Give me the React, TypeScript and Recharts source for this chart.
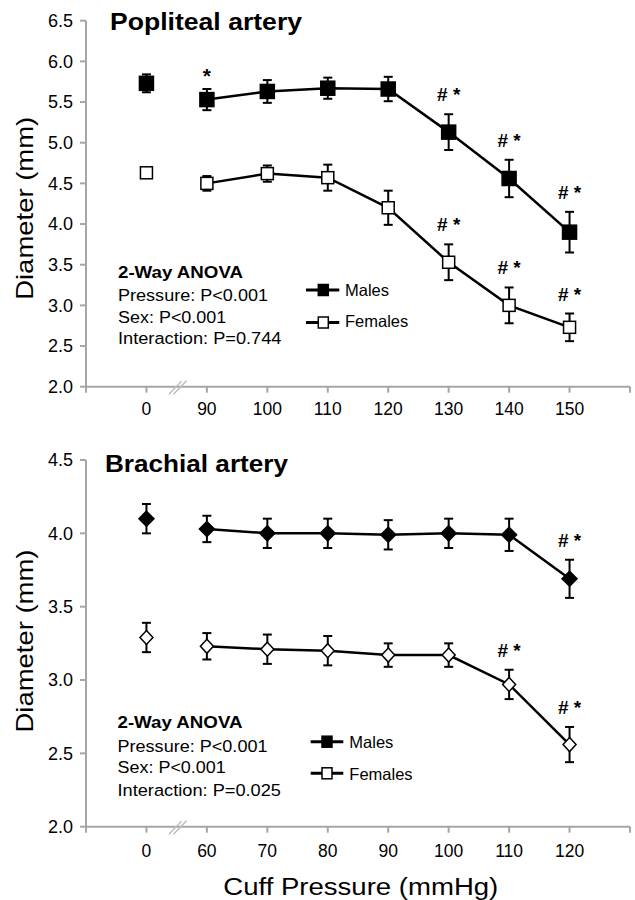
import React from 'react';
import { ComposedChart, Line, XAxis, YAxis, ErrorBar, Scatter } from 'recharts';

const FONT = '"Liberation Sans", Arial, Helvetica, sans-serif';
const AXIS_GRAY = '#a6a6a6';

// ---------- Popliteal artery ----------
const popCats = ['0', '90', '100', '110', '120', '130', '140', '150'];
const popMale = [5.73, 5.53, 5.63, 5.67, 5.66, 5.13, 4.56, 3.9];
const popMaleSE = [0.11, 0.13, 0.14, 0.13, 0.15, 0.22, 0.23, 0.25];
const popFemale = [4.63, 4.5, 4.62, 4.57, 4.2, 3.53, 3.0, 2.73];
const popFemaleSE = [0.04, 0.09, 0.1, 0.16, 0.21, 0.22, 0.22, 0.17];
const popMaleSig = ['', '*', '', '', '', '# *', '# *', '# *'];
const popFemaleSig = ['', '', '', '', '', '# *', '# *', '# *'];
const popYTicks = [2.0, 2.5, 3.0, 3.5, 4.0, 4.5, 5.0, 5.5, 6.0, 6.5];
const popAnova = ['2-Way ANOVA', 'Pressure: P<0.001', 'Sex: P<0.001', 'Interaction: P=0.744'];

// ---------- Brachial artery ----------
const brachCats = ['0', '60', '70', '80', '90', '100', '110', '120'];
const brachMale = [4.1, 4.03, 4.0, 4.0, 3.99, 4.0, 3.99, 3.69];
const brachMaleSE = [0.1, 0.09, 0.1, 0.1, 0.1, 0.1, 0.11, 0.13];
const brachFemale = [3.29, 3.23, 3.21, 3.2, 3.17, 3.17, 2.97, 2.56];
const brachFemaleSE = [0.1, 0.09, 0.1, 0.1, 0.08, 0.08, 0.1, 0.12];
const brachMaleSig = ['', '', '', '', '', '', '', '# *'];
const brachFemaleSig = ['', '', '', '', '', '', '# *', '# *'];
const brachYTicks = [2.0, 2.5, 3.0, 3.5, 4.0, 4.5];
const brachAnova = ['2-Way ANOVA', 'Pressure: P<0.001', 'Sex: P<0.001', 'Interaction: P=0.025'];

const legendNames = ['Males', 'Females'];
const xSlots = [0, 1, 2, 3, 4, 5, 6, 7, 8, 9];

function buildRows(cats: string[], male: number[], maleSE: number[], female: number[], femaleSE: number[]) {
  return cats.map((c, i) => ({
    x: i + 1,
    label: c,
    m: i > 0 ? male[i] : null,
    mSE: i > 0 ? maleSE[i] : null,
    m0: i === 0 ? male[i] : null,
    m0SE: i === 0 ? maleSE[i] : null,
    f: i > 0 ? female[i] : null,
    fSE: i > 0 ? femaleSE[i] : null,
    f0: i === 0 ? female[i] : null,
    f0SE: i === 0 ? femaleSE[i] : null,
  }));
}

function buildSig(vals: number[], se: number[], sig: string[]) {
  return vals
    .map((v, i) => ({ x: i + 1, y: v + se[i], text: sig[i] }))
    .filter((d) => d.text !== '');
}

const squareDot = (fill: string, size: number) => (props: any) => {
  const { cx, cy, index } = props;
  if (cx == null || cy == null || Number.isNaN(cy)) return <g key={`s-${index}`} />;
  return (
    <rect
      key={`s-${index}`}
      x={cx - size / 2}
      y={cy - size / 2}
      width={size}
      height={size}
      fill={fill}
      stroke="#000"
      strokeWidth={1.5}
    />
  );
};

const diamondDot = (fill: string, hw: number, hh: number) => (props: any) => {
  const { cx, cy, index } = props;
  if (cx == null || cy == null || Number.isNaN(cy)) return <g key={`d-${index}`} />;
  const pts = `${cx},${cy - hh} ${cx + hw},${cy} ${cx},${cy + hh} ${cx - hw},${cy}`;
  return <polygon key={`d-${index}`} points={pts} fill={fill} stroke="#000" strokeWidth={1.5} />;
};

const sigShape = (props: any) => {
  const { cx, cy, payload } = props;
  const starOnly = payload.text === '*';
  return (
    <text
      x={cx}
      y={cy - (starOnly ? 6 : 13)}
      textAnchor="middle"
      fontFamily={FONT}
      fontSize={starOnly ? 21 : 19}
      fontWeight="bold"
      fill="#000"
    >
      {payload.text}
    </text>
  );
};

const YTick = (props: any) => {
  const { x, y, payload } = props;
  return (
    <text x={x} y={y} dy="0.355em" textAnchor="end" fontFamily={FONT} fontSize={18} fill="#000">
      {Number(payload.value).toFixed(1)}
    </text>
  );
};

const makeXTick = (cats: string[]) => (props: any) => {
  const { x, y, payload } = props;
  const idx = payload.value - 1;
  const label = idx >= 0 && idx < cats.length ? cats[idx] : '';
  return (
    <text x={x} y={y} dy="0.71em" textAnchor="middle" fontFamily={FONT} fontSize={17.5} fill="#000">
      {label}
    </text>
  );
};

type PanelProps = {
  height: number;
  marginTop: number;
  xAxisHeight: number;
  xTickMargin: number;
  cats: string[];
  male: number[];
  maleSE: number[];
  female: number[];
  femaleSE: number[];
  maleSig: string[];
  femaleSig: string[];
  yTicks: number[];
  diamond: boolean;
  children?: React.ReactNode;
};

function Panel(p: PanelProps) {
  const rows = buildRows(p.cats, p.male, p.maleSE, p.female, p.femaleSE);
  const sig = [...buildSig(p.male, p.maleSE, p.maleSig), ...buildSig(p.female, p.femaleSE, p.femaleSig)];
  const maleDot = p.diamond ? diamondDot('#000', 7.5, 7.5) : squareDot('#000', 14);
  const femaleDot = p.diamond ? diamondDot('#fff', 6.5, 7) : squareDot('#fff', 12);
  const yMin = p.yTicks[0];
  const yMax = p.yTicks[p.yTicks.length - 1];
  return (
    <div style={{ position: 'relative', width: 635, height: p.height }}>
      <ComposedChart
        width={635}
        height={p.height}
        data={rows}
        margin={{ top: p.marginTop, right: 5, bottom: 0, left: 0 }}
      >
        <XAxis
          dataKey="x"
          type="number"
          domain={[0, 9]}
          ticks={xSlots}
          interval={0}
          height={p.xAxisHeight}
          axisLine={{ stroke: AXIS_GRAY, strokeWidth: 2 }}
          tickLine={{ stroke: AXIS_GRAY, strokeWidth: 2 }}
          tickSize={6}
          tickMargin={p.xTickMargin}
          tick={makeXTick(p.cats)}
        />
        <YAxis
          type="number"
          domain={[yMin, yMax]}
          ticks={p.yTicks}
          interval={0}
          width={86}
          allowDataOverflow
          axisLine={{ stroke: AXIS_GRAY, strokeWidth: 2 }}
          tickLine={{ stroke: AXIS_GRAY, strokeWidth: 2 }}
          tickSize={6}
          tickMargin={7}
          tick={<YTick />}
        />
        <Line
          dataKey="m"
          stroke="#000"
          strokeWidth={2.5}
          dot={maleDot}
          activeDot={false}
          isAnimationActive={false}
          connectNulls={false}
        >
          <ErrorBar dataKey="mSE" width={4.5} stroke="#000" strokeWidth={2} />
        </Line>
        <Line
          dataKey="m0"
          stroke="#000"
          strokeWidth={2.5}
          dot={maleDot}
          activeDot={false}
          isAnimationActive={false}
        >
          <ErrorBar dataKey="m0SE" width={4.5} stroke="#000" strokeWidth={2} />
        </Line>
        <Line
          dataKey="f"
          stroke="#000"
          strokeWidth={2.5}
          dot={femaleDot}
          activeDot={false}
          isAnimationActive={false}
          connectNulls={false}
        >
          <ErrorBar dataKey="fSE" width={4.5} stroke="#000" strokeWidth={2} />
        </Line>
        <Line
          dataKey="f0"
          stroke="#000"
          strokeWidth={2.5}
          dot={femaleDot}
          activeDot={false}
          isAnimationActive={false}
        >
          <ErrorBar dataKey="f0SE" width={4.5} stroke="#000" strokeWidth={2} />
        </Line>
        <Scatter data={sig} dataKey="y" shape={sigShape} isAnimationActive={false} />
      </ComposedChart>
      <svg
        width={635}
        height={p.height}
        style={{ position: 'absolute', left: 0, top: 0, pointerEvents: 'none' }}
      >
        {p.children}
      </svg>
    </div>
  );
}

function Anova({ lines, x, y0, gaps }: { lines: string[]; x: number; y0: number; gaps: number[] }) {
  const widths = [125, 150, 108.3, 163.5];
  let y = y0;
  return (
    <g>
      {lines.map((t, i) => {
        if (i > 0) y += gaps[i - 1];
        return (
          <text
            key={t}
            x={x}
            y={y}
            fontFamily={FONT}
            fontSize={16.3}
            fontWeight={i === 0 ? 'bold' : 'normal'}
            fill="#000"
            textLength={widths[i]}
            lengthAdjust="spacingAndGlyphs"
          >
            {t}
          </text>
        );
      })}
    </g>
  );
}

function LegendBox({ x0, x1, mx, ys, textX, textYs }: { x0: number; x1: number; mx: number; ys: number[]; textX: number; textYs: number[] }) {
  return (
    <g>
      {legendNames.map((n, i) => (
        <g key={n}>
          <line x1={x0} y1={ys[i]} x2={x1} y2={ys[i]} stroke="#000" strokeWidth={3} />
          <rect
            x={mx - 5}
            y={ys[i] - 5.5}
            width={10}
            height={11}
            fill={i === 0 ? '#000' : '#fff'}
            stroke="#000"
            strokeWidth={1.5}
          />
          <text x={textX} y={textYs[i]} fontFamily={FONT} fontSize={16.5} fill="#000">
            {n}
          </text>
        </g>
      ))}
    </g>
  );
}

function BreakMark({ y }: { y: number }) {
  return (
    <g stroke="#bdbdbd" strokeWidth={1.5}>
      <line x1={169} y1={y + 7.5} x2={181.5} y2={y - 5.5} />
      <line x1={173.5} y1={y + 7.5} x2={186.5} y2={y - 6} />
    </g>
  );
}

export default function App() {
  return (
    <div style={{ position: 'absolute', left: 0, top: 0, width: 635, height: 900, background: '#fff' }}>
      <Panel
        height={440}
        marginTop={20.7}
        xAxisHeight={53.3}
        xTickMargin={10}
        cats={popCats}
        male={popMale}
        maleSE={popMaleSE}
        female={popFemale}
        femaleSE={popFemaleSE}
        maleSig={popMaleSig}
        femaleSig={popFemaleSig}
        yTicks={popYTicks}
        diamond={false}
      >
        <text
          x={110}
          y={30}
          fontFamily={FONT}
          fontSize={24.5}
          fontWeight="bold"
          fill="#000"
          textLength={192}
          lengthAdjust="spacingAndGlyphs"
        >
          Popliteal artery
        </text>
        <text
          transform="translate(33,208.3) rotate(-90)"
          textAnchor="middle"
          fontFamily={FONT}
          fontSize={24}
          fill="#000"
          textLength={183}
          lengthAdjust="spacingAndGlyphs"
        >
          Diameter (mm)
        </text>
        <Anova lines={popAnova} x={118} y0={278.3} gaps={[22.4, 22, 21.6]} />
        <LegendBox x0={306} x1={339.3} mx={323.3} ys={[290, 322.5]} textX={345} textYs={[295.7, 327.3]} />
        <BreakMark y={386.7} />
      </Panel>
      <Panel
        height={460}
        marginTop={20}
        xAxisHeight={73.3}
        xTickMargin={12}
        cats={brachCats}
        male={brachMale}
        maleSE={brachMaleSE}
        female={brachFemale}
        femaleSE={brachFemaleSE}
        maleSig={brachMaleSig}
        femaleSig={brachFemaleSig}
        yTicks={brachYTicks}
        diamond={true}
      >
        <text
          x={105}
          y={31.7}
          fontFamily={FONT}
          fontSize={24}
          fontWeight="bold"
          fill="#000"
          textLength={183}
          lengthAdjust="spacingAndGlyphs"
        >
          Brachial artery
        </text>
        <text
          transform="translate(33,201) rotate(-90)"
          textAnchor="middle"
          fontFamily={FONT}
          fontSize={24}
          fill="#000"
          textLength={183}
          lengthAdjust="spacingAndGlyphs"
        >
          Diameter (mm)
        </text>
        <Anova lines={brachAnova} x={117.5} y0={288.3} gaps={[23.4, 21.6, 22.4]} />
        <LegendBox x0={310.7} x1={343.3} mx={327} ys={[301.7, 333.3]} textX={349.3} textYs={[308, 340]} />
        <text
          x={360.8}
          y={455}
          textAnchor="middle"
          fontFamily={FONT}
          fontSize={23.5}
          fill="#000"
          textLength={275}
          lengthAdjust="spacingAndGlyphs"
        >
          Cuff Pressure (mmHg)
        </text>
        <BreakMark y={386.7} />
      </Panel>
    </div>
  );
}
